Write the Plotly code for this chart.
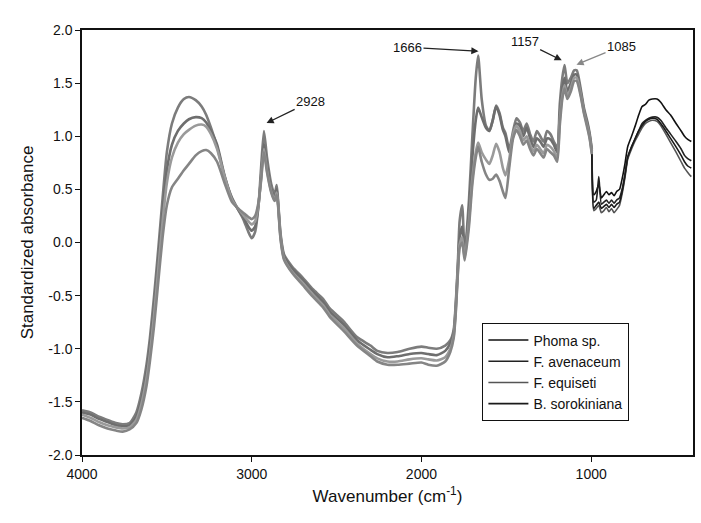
import plotly.graph_objects as go

wavenumber = [4000, 3950, 3900, 3850, 3800, 3760, 3720, 3680, 3650, 3620, 3600, 3575, 3550, 3525, 3500,
              3470, 3435, 3400, 3370, 3330, 3295, 3268, 3240, 3204, 3160, 3116, 3080, 3050, 3020, 3000,
              2980, 2960, 2945, 2928, 2910, 2885, 2865, 2853, 2845, 2830, 2810, 2760, 2700, 2640, 2580,
              2540, 2460, 2380, 2300, 2260, 2200, 2140, 2070, 2000, 1960, 1910, 1860, 1830, 1810, 1797,
              1785, 1775, 1760, 1745, 1720, 1700, 1680, 1666, 1645, 1620, 1600, 1580, 1560, 1540, 1520,
              1505, 1483, 1460, 1440, 1420, 1400, 1380, 1360, 1340, 1320, 1300, 1280, 1260, 1240, 1220,
              1200, 1185, 1170, 1157, 1140, 1120, 1100, 1085, 1062, 1043, 1020, 1008, 996, 985, 970,
              955, 940, 925, 910, 895, 880, 865, 850, 833, 815, 800, 785, 762, 740, 720,
              700, 680, 660, 640, 612, 590, 560, 532, 500, 470, 450, 431, 410]

phoma = [-1.58, -1.60, -1.64, -1.67, -1.70, -1.71, -1.70, -1.60, -1.42, -1.15, -0.90, -0.50, -0.05, 0.42, 0.85,
         1.12, 1.27, 1.35, 1.37, 1.34, 1.28, 1.20, 1.08, 0.90, 0.62, 0.42, 0.31, 0.22, 0.10, 0.04,
         0.10, 0.35, 0.70, 1.05, 0.80, 0.55, 0.45, 0.54, 0.40, 0.08, -0.11, -0.23, -0.33, -0.44, -0.53,
         -0.62, -0.74, -0.89, -0.97, -1.02, -1.04, -1.03, -1.00, -0.98, -0.99, -1.00, -0.97, -0.92, -0.82, -0.55,
         -0.18, 0.20, 0.35, -0.10, 0.40, 1.00, 1.55, 1.76, 1.35, 1.10, 1.05, 1.15, 1.29, 1.22, 1.08,
         1.03, 0.88, 1.05, 1.17, 1.13, 1.05, 1.12, 1.02, 0.95, 1.05, 1.00, 0.95, 1.05, 1.02, 0.95,
         0.90, 1.30, 1.55, 1.67, 1.50, 1.55, 1.62, 1.62, 1.45, 1.27, 1.12, 1.02, 0.88, 0.45, 0.48,
         0.55, 0.42, 0.45, 0.48, 0.45, 0.47, 0.44, 0.48, 0.50, 0.62, 0.75, 0.90, 1.00, 1.10, 1.20,
         1.28, 1.30, 1.34, 1.35, 1.35, 1.32, 1.25, 1.20, 1.12, 1.05, 1.00, 0.97, 0.95]

avenaceum = [-1.60, -1.62, -1.66, -1.69, -1.72, -1.73, -1.72, -1.64, -1.48, -1.22, -0.98, -0.60, -0.15, 0.30, 0.68,
             0.92, 1.05, 1.12, 1.16, 1.18, 1.17, 1.13, 1.05, 0.92, 0.63, 0.41, 0.31, 0.24, 0.15, 0.11,
             0.15, 0.35, 0.62, 0.93, 0.72, 0.50, 0.42, 0.50, 0.38, 0.06, -0.13, -0.25, -0.35, -0.46, -0.56,
             -0.65, -0.77, -0.92, -1.01, -1.05, -1.08, -1.07, -1.05, -1.04, -1.05, -1.06, -1.02, -0.95, -0.85, -0.58,
             -0.22, 0.05, 0.15, -0.13, 0.30, 0.80, 1.15, 1.27, 1.18, 1.08, 1.05, 1.15, 1.28, 1.20, 1.06,
             1.00, 0.85, 1.00, 1.12, 1.10, 1.00, 1.08, 0.98, 0.90, 0.98, 0.95, 0.90, 0.98, 0.97, 0.92,
             0.85, 1.20, 1.45, 1.55, 1.42, 1.50, 1.58, 1.58, 1.42, 1.25, 1.10, 1.00, 0.86, 0.38, 0.40,
             0.62, 0.36, 0.38, 0.40, 0.37, 0.40, 0.37, 0.40, 0.42, 0.52, 0.65, 0.80, 0.90, 0.98, 1.05,
             1.12, 1.15, 1.17, 1.18, 1.18, 1.15, 1.08, 1.02, 0.95, 0.88, 0.82, 0.79, 0.77]

equiseti = [-1.62, -1.65, -1.69, -1.72, -1.74, -1.75, -1.74, -1.67, -1.52, -1.28, -1.05, -0.68, -0.24, 0.20, 0.56,
            0.80, 0.94, 1.02, 1.06, 1.10, 1.11, 1.09, 1.02, 0.88, 0.62, 0.40, 0.32, 0.26, 0.20, 0.17,
            0.20, 0.36, 0.60, 0.88, 0.68, 0.48, 0.40, 0.47, 0.36, 0.04, -0.15, -0.28, -0.38, -0.49, -0.59,
            -0.68, -0.80, -0.95, -1.05, -1.09, -1.12, -1.12, -1.10, -1.09, -1.10, -1.11, -1.08, -1.00, -0.88, -0.62,
            -0.26, -0.02, 0.05, -0.15, 0.20, 0.60, 0.85, 0.94, 0.85, 0.78, 0.74, 0.82, 0.93, 0.85, 0.70,
            0.63, 0.78, 1.02, 1.10, 1.05, 0.96, 1.00, 0.92, 0.86, 0.92, 0.88, 0.84, 0.92, 0.90, 0.86,
            0.80, 1.15, 1.38, 1.48, 1.38, 1.45, 1.55, 1.55, 1.40, 1.23, 1.08, 0.98, 0.84, 0.30, 0.32,
            0.35, 0.28, 0.30, 0.33, 0.29, 0.32, 0.28, 0.31, 0.35, 0.48, 0.62, 0.78, 0.88, 0.96, 1.02,
            1.08, 1.12, 1.14, 1.15, 1.14, 1.10, 1.02, 0.94, 0.85, 0.76, 0.70, 0.66, 0.62]

sorokiniana = [-1.65, -1.68, -1.72, -1.75, -1.77, -1.78, -1.76, -1.70, -1.57, -1.35, -1.12, -0.78, -0.36, 0.05, 0.35,
               0.52, 0.60, 0.68, 0.74, 0.82, 0.86, 0.87, 0.84, 0.76, 0.56, 0.38, 0.32, 0.28, 0.24, 0.22,
               0.25, 0.38, 0.58, 0.85, 0.66, 0.47, 0.39, 0.45, 0.35, 0.03, -0.16, -0.29, -0.40, -0.51, -0.61,
               -0.70, -0.83, -0.97, -1.07, -1.12, -1.15, -1.15, -1.14, -1.13, -1.15, -1.16, -1.12, -1.03, -0.90, -0.64,
               -0.28, -0.05, 0.00, -0.17, 0.15, 0.55, 0.80, 0.90, 0.76, 0.64, 0.59, 0.60, 0.64, 0.58, 0.48,
               0.42, 0.70, 0.98, 1.06, 1.00, 0.92, 0.96, 0.88, 0.82, 0.88, 0.84, 0.80, 0.88, 0.85, 0.82,
               0.76, 1.10, 1.35, 1.45, 1.35, 1.42, 1.52, 1.52, 1.38, 1.22, 1.06, 0.97, 0.83, 0.32, 0.35,
               0.38, 0.32, 0.34, 0.36, 0.33, 0.36, 0.33, 0.36, 0.38, 0.50, 0.64, 0.80, 0.90, 0.98, 1.05,
               1.10, 1.14, 1.16, 1.17, 1.16, 1.12, 1.05, 0.98, 0.90, 0.82, 0.76, 0.72, 0.70]

series_names = ["Phoma sp.", "F. avenaceum", "F. equiseti", "B. sorokiniana"]
series_values = [phoma, avenaceum, equiseti, sorokiniana]
gray_colors = ["#7c7c7c", "#6e6e6e", "#9a9a9a", "#858585"]
dark_colors = ["#111111", "#222222", "#555555", "#1a1a1a"]
split_wn = 996

y_tickvals = [2.0, 1.5, 1.0, 0.5, 0.0, -0.5, -1.0, -1.5, -2.0]
y_ticktext = ["2.0", "1.5", "1.0", "0.5", "0.0", "-0.5", "-1.0", "-1.5", "-2.0"]
x_tickvals = [4000, 3000, 2000, 1000]
x_ticktext = ["4000", "3000", "2000", "1000"]

peak_labels = ["2928", "1666", "1157", "1085"]
peak_tip_x = [2918, 1658, 1168, 1092]
peak_tip_y = [1.12, 1.80, 1.71, 1.67]
peak_ax = [45, -72, -38, 46]
peak_ay = [-22, -4, -19, -19]
peak_arrow_colors = ["#222222", "#222222", "#222222", "#888888"]

fig = go.Figure()
for name, vals, gc, dc in zip(series_names, series_values, gray_colors, dark_colors):
    hi_x = [w for w in wavenumber if w >= split_wn]
    hi_y = [v for w, v in zip(wavenumber, vals) if w >= split_wn]
    lo_x = [w for w in wavenumber if w <= split_wn]
    lo_y = [v for w, v in zip(wavenumber, vals) if w <= split_wn]
    fig.add_trace(go.Scatter(x=hi_x, y=hi_y, mode="lines", name=name, legendgroup=name,
                             showlegend=False,
                             line=dict(color=gc, width=2.6, shape="spline", smoothing=0.6)))
    fig.add_trace(go.Scatter(x=lo_x, y=lo_y, mode="lines", name=name, legendgroup=name,
                             line=dict(color=dc, width=1.6, shape="spline", smoothing=0.5)))

for lab, tx, ty, ax, ay, ac in zip(peak_labels, peak_tip_x, peak_tip_y, peak_ax, peak_ay, peak_arrow_colors):
    fig.add_annotation(x=tx, y=ty, xref="x", yref="y", text=lab, showarrow=True,
                       ax=ax, ay=ay, arrowhead=2, arrowsize=1.1, arrowwidth=1.3,
                       arrowcolor=ac, standoff=1,
                       font=dict(family="Liberation Sans, Arial, sans-serif", size=13, color="#111111"))

axis_font = dict(family="Liberation Sans, Arial, sans-serif", size=13, color="#111111")
fig.update_layout(
    width=701, height=523,
    margin=dict(l=82, r=6, t=30, b=68),
    paper_bgcolor="white", plot_bgcolor="white",
    font=axis_font,
    showlegend=True,
    legend=dict(x=0.655, y=0.31, xanchor="left", yanchor="top",
                bgcolor="white", bordercolor="#111111", borderwidth=1.2,
                font=dict(family="Liberation Sans, Arial, sans-serif", size=14, color="#111111"),
                tracegroupgap=0, itemwidth=40),
)
fig.update_xaxes(range=[4000, 400], tickvals=x_tickvals, ticktext=x_ticktext,
                 showline=True, linecolor="#111111", linewidth=1.5, mirror=True,
                 ticks="outside", ticklen=5, tickcolor="#111111", showgrid=False, zeroline=False,
                 tickfont=dict(size=14),
                 title=dict(text="Wavenumber (cm<sup>-1</sup>)", standoff=10,
                            font=dict(family="Liberation Sans, Arial, sans-serif", size=17, color="#111111")))
fig.update_yaxes(range=[-2.0, 2.0], tickvals=y_tickvals, ticktext=y_ticktext,
                 showline=True, linecolor="#111111", linewidth=1.5, mirror=True,
                 ticks="outside", ticklen=5, tickcolor="#111111", showgrid=False, zeroline=False,
                 tickfont=dict(size=14),
                 title=dict(text="Standardized absorbance", standoff=10,
                            font=dict(family="Liberation Sans, Arial, sans-serif", size=17, color="#111111")))

fig.write_html("out.html")
